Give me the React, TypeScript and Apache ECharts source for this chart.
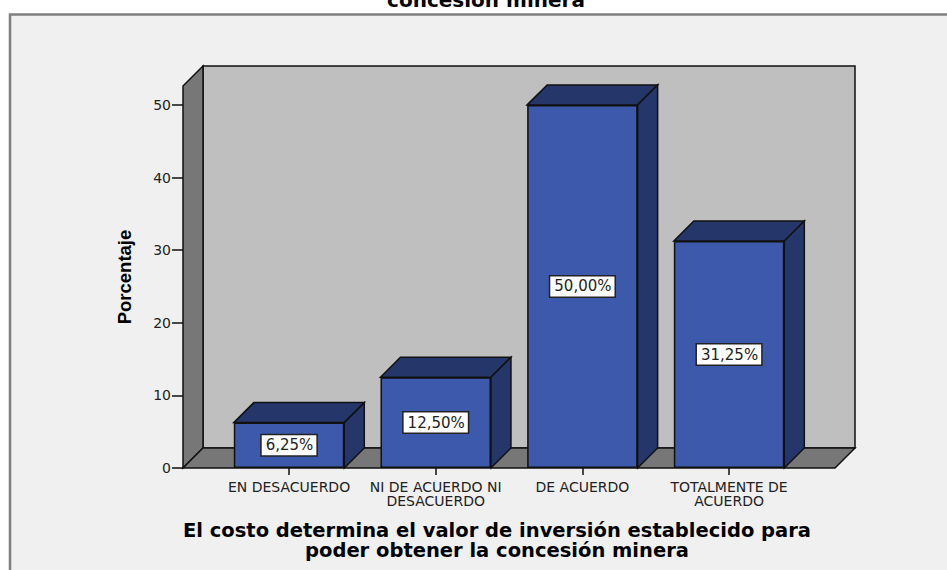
import React, { useEffect, useRef } from "react";
import * as echarts from "echarts";

const categories = ["EN DESACUERDO", "NI DE ACUERDO NI\nDESACUERDO", "DE ACUERDO", "TOTALMENTE DE\nACUERDO"];
const values = [6.25, 12.5, 50, 31.25];
const labels = ["6,25%", "12,50%", "50,00%", "31,25%"];
const yTicks = [0, 10, 20, 30, 40, 50];
const titleTop = "concesión minera";
const xTitle = "El costo determina el valor de inversión establecido para\npoder obtener la concesión minera";
const yTitle = "Porcentaje";

const DEPTH = 20;
const BAR_W = 110.5;
const FLOOR_L = 183;
const FLOOR_R = 835;
const FONT = "'DejaVu Sans'";
const EDGE = "#111111";

export default function App() {
  const ref = useRef<HTMLDivElement>(null);
  useEffect(() => {
    const chart = echarts.init(ref.current!, undefined, { renderer: "svg" });
    const edge = { stroke: EDGE, lineWidth: 1.5 };
    chart.setOption({
      animation: false,
      backgroundColor: "#ffffff",
      graphic: [
        { type: "rect", z: -10, shape: { x: 10, y: 14.5, width: 960, height: 580 }, style: { fill: "#f0f0f0", stroke: "#7f7f7f", lineWidth: 2.5 } },
        { type: "text", x: 486, y: 10, style: { text: titleTop, font: `bold 20px ${FONT}`, fill: "#000", textAlign: "center", textVerticalAlign: "bottom" } },
        { type: "text", x: 497, y: 520, style: { text: xTitle, font: `bold 19.5px ${FONT}`, fill: "#000", textAlign: "center", textVerticalAlign: "top", lineHeight: 20 } },
      ],
      grid: { left: 215.7, width: 586.7, top: 86, bottom: 102, containLabel: false },
      xAxis: {
        type: "category",
        data: categories,
        axisLine: { show: false },
        axisTick: { show: true, alignWithLabel: true, length: 7, lineStyle: { color: EDGE, width: 1.5 } },
        axisLabel: { color: "#222", fontFamily: FONT, fontSize: 14, lineHeight: 14, margin: 12, interval: 0 },
      },
      yAxis: {
        type: "value",
        min: 0,
        max: 52.6,
        offset: 32.7,
        name: yTitle,
        nameLocation: "middle",
        nameGap: 49,
        nameTextStyle: { color: "#000", fontFamily: "'Liberation Sans'", fontWeight: "bold", fontSize: 18.5 },
        splitLine: { show: false },
        axisLine: { show: false },
        axisTick: { show: true, length: 11, customValues: yTicks, lineStyle: { color: EDGE, width: 1.5 } },
        axisLabel: { color: "#222", fontFamily: FONT, fontSize: 14, margin: 12, padding: [2, 0, 0, 0], customValues: yTicks, formatter: (v: number) => String(v) },
      },
      series: [
        {
          type: "custom",
          name: "walls",
          data: [[0]],
          clip: false,
          silent: true,
          z: 1,
          renderItem: (_: any, api: any) => {
            const yB = api.coord([0, 0])[1];
            const yT = api.coord([0, 52.6])[1];
            const L = FLOOR_L, R = FLOOR_R, d = DEPTH;
            return {
              type: "group",
              children: [
                { type: "polygon", shape: { points: [[L + d, yT - d], [R + d, yT - d], [R + d, yB - d], [L + d, yB - d]] }, style: { fill: "#bfbfbf", ...edge } },
                { type: "polygon", shape: { points: [[L, yT], [L + d, yT - d], [L + d, yB - d], [L, yB]] }, style: { fill: "#777777", ...edge } },
                { type: "polygon", shape: { points: [[L, yB], [L + d, yB - d], [R + d, yB - d], [R, yB]] }, style: { fill: "#777777", ...edge } },
              ],
            };
          },
        },
        {
          type: "custom",
          name: "caras",
          data: values.map((v, i) => [i, v]),
          encode: { x: 0, y: 1 },
          clip: false,
          silent: true,
          z: 2,
          renderItem: (_: any, api: any) => {
            const p = api.coord([api.value(0), api.value(1)]);
            const yB = api.coord([api.value(0), 0])[1];
            const l = p[0] - BAR_W / 2, r = p[0] + BAR_W / 2, t = p[1], d = DEPTH;
            return {
              type: "group",
              children: [
                { type: "polygon", shape: { points: [[l, t], [l + d, t - d], [r + d, t - d], [r, t]] }, style: { fill: "#25366b", ...edge } },
                { type: "polygon", shape: { points: [[r, t], [r + d, t - d], [r + d, yB - d], [r, yB]] }, style: { fill: "#25366b", ...edge } },
              ],
            };
          },
        },
        {
          type: "bar",
          name: "Porcentaje",
          data: values,
          barWidth: BAR_W,
          z: 3,
          itemStyle: { color: "#3d59ab", borderColor: EDGE, borderWidth: 1.5 },
          label: {
            show: true,
            position: "inside",
            formatter: (p: any) => labels[p.dataIndex],
            color: "#222",
            fontFamily: FONT,
            fontSize: 15,
            backgroundColor: "#ffffff",
            borderColor: "#222",
            borderWidth: 1.5,
            padding: [3, 3, 2, 4],
          },
        },
      ],
    });
    return () => chart.dispose();
  }, []);
  return <div ref={ref} style={{ position: "absolute", left: 0, top: 0, width: 947, height: 570 }} />;
}
